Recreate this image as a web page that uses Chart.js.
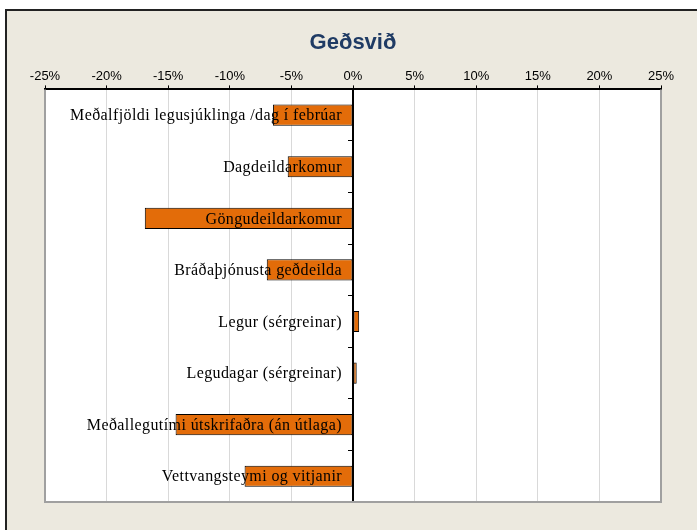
<!DOCTYPE html>
<html>
<head>
<meta charset="utf-8">
<script src="https://cdn.jsdelivr.net/npm/chart.js@4.4.1/dist/chart.umd.min.js"></script>
<style>
  html, body { margin: 0; padding: 0; background: #fff; overflow: hidden; }
  canvas { display: block; }
</style>
</head>
<body>
<canvas id="geoChart" width="697" height="530"></canvas>
<script>
// Flokkar og breytingar (%)
const flokkar = [
    'Meðalfjöldi legusjúklinga /dag í febrúar',
    'Dagdeildarkomur',
    'Göngudeildarkomur',
    'Bráðaþjónusta geðdeilda',
    'Legur (sérgreinar)',
    'Legudagar (sérgreinar)',
    'Meðallegutími útskrifaðra (án útlaga)',
    'Vettvangsteymi og vitjanir'
];
const breyting = [-6.5, -5.3, -16.9, -7.0, 0.5, 0.3, -14.4, -8.8];
const xMin = -25;
const xMax = 25;
const xStep = 5;

// Rammi og bakgrunnur
const ramminn = {
    id: 'ramminn',
    beforeDraw(chart) {
        const ctx = chart.ctx;
        const a = chart.chartArea;
        ctx.save();
        ctx.fillStyle = '#ECE9DF';
        ctx.fillRect(6, 10, 700, 530);
        ctx.fillStyle = '#222';
        ctx.fillRect(5, 9, 2, 530);
        ctx.fillRect(5, 9, 700, 2);
        ctx.fillStyle = '#fff';
        ctx.fillRect(a.left, a.top, a.right - a.left, a.bottom - a.top);
        ctx.restore();
    },
    beforeDatasetsDraw(chart) {
        const ctx = chart.ctx;
        const a = chart.chartArea;
        ctx.save();
        ctx.strokeStyle = '#A0A0A0';
        ctx.lineWidth = 2;
        ctx.beginPath();
        ctx.moveTo(a.left, a.top);
        ctx.lineTo(a.left, a.bottom);
        ctx.lineTo(a.right, a.bottom);
        ctx.lineTo(a.right, a.top);
        ctx.stroke();
        ctx.restore();
    },
    // Heiti flokka við 0-ásinn, ofan á súlunum
    afterDatasetsDraw(chart) {
        const ctx = chart.ctx;
        const xs = chart.scales.x;
        const ys = chart.scales.y;
        const x0 = xs.getPixelForValue(0) - 11;
        ctx.save();
        ctx.font = '16px "Liberation Serif", "Times New Roman", serif';
        ctx.letterSpacing = '0.4px';
        ctx.fillStyle = '#000';
        ctx.textAlign = 'right';
        ctx.textBaseline = 'middle';
        flokkar.forEach((f, i) => {
            ctx.fillText(f, x0, ys.getPixelForValue(i) + 1);
        });
        ctx.restore();
    }
};

const ctx = document.getElementById('geoChart').getContext('2d');
const geoChart = new Chart(ctx, {
    type: 'bar',
    data: {
        labels: flokkar,
        datasets: [{
            data: breyting,
            backgroundColor: '#E36C09',
            borderColor: '#000',
            borderWidth: 1,
            borderSkipped: false,
            categoryPercentage: 1,
            barPercentage: 0.41
        }]
    },
    options: {
        indexAxis: 'y',
        responsive: false,
        animation: false,
        layout: {
            padding: { left: 45, right: 36, top: 10, bottom: 28 }
        },
        plugins: {
            legend: { display: false },
            tooltip: { enabled: false },
            title: {
                display: true,
                text: 'Geðsvið',
                color: '#1F3B64',
                font: { family: 'Liberation Sans, Arial, sans-serif', size: 22, weight: 'bold' },
                padding: { top: 20, bottom: 3 }
            }
        },
        scales: {
            x: {
                position: 'top',
                min: xMin,
                max: xMax,
                afterFit(scale) { scale.height = 30; },
                ticks: {
                    stepSize: xStep,
                    padding: 1,
                    color: '#000',
                    font: { family: 'Liberation Sans, Arial, sans-serif', size: 13 },
                    callback: v => v + '%'
                },
                grid: {
                    color: '#D9D9D9',
                    tickColor: '#000',
                    tickLength: 4
                },
                border: { color: '#000', width: 2 }
            },
            y: {
                position: { x: 0 },
                z: 1,
                ticks: { display: false },
                grid: {
                    drawOnChartArea: false,
                    offset: true,
                    tickColor: '#000',
                    tickLength: 4
                },
                border: { color: '#000', width: 2 }
            }
        }
    },
    plugins: [ramminn]
});
</script>
</body>
</html>
